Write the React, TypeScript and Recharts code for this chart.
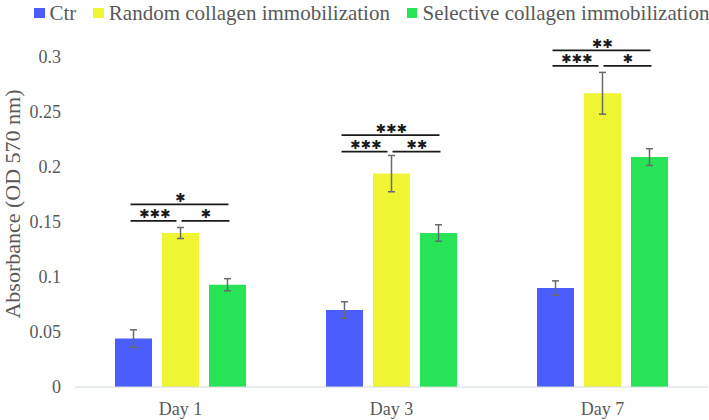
import React from 'react';
import { BarChart, Bar, XAxis, YAxis, ErrorBar } from 'recharts';

// values
const days = ['Day 1', 'Day 3', 'Day 7'];
const ctr = [0.044, 0.07, 0.09];
const random = [0.14, 0.194, 0.267];
const selective = [0.093, 0.14, 0.209];
const ctrErr = [0.008, 0.0075, 0.0065];
const randomErr = [0.005, 0.0165, 0.019];
const selectiveErr = [0.0055, 0.0075, 0.0076];
const yTicks = [0, 0.05, 0.1, 0.15, 0.2, 0.25, 0.3];

// significance marks (Ctr vs Random, Random vs Selective, Ctr vs Selective)
const sigCtrRandom = ['***', '***', '***'];
const sigRandomSel = ['*', '**', '*'];
const sigCtrSel = ['*', '***', '**'];
// heights of the bracket lines in absorbance units
const lowBracket = [0.151, 0.214, 0.292];
const highBracket = [0.166, 0.229, 0.306];

const series = [
    { key: 'Ctr', name: 'Ctr', color: '#4b5dfc' },
    { key: 'Random', name: 'Random collagen immobilization', color: '#eff533' },
    { key: 'Selective', name: 'Selective collagen immobilization', color: '#27e356' },
];

const data = days.map((d, i) => ({
    day: d,
    Ctr: ctr[i],
    CtrErr: ctrErr[i],
    Random: random[i],
    RandomErr: randomErr[i],
    Selective: selective[i],
    SelectiveErr: selectiveErr[i],
}));

const FONT = '"Liberation Serif", "Times New Roman", serif';
const BAR_SIZE = 37;
const BAR_GAP = 10;
const TEXT = '#595959';
const ERR = '#666b6b';

// heavy asterisk glyph keeps the marks big while the text box stays small
const stars = (s: string) => s.replace(/\*/g, '\u2731');

const Brackets = (props: any) => {
    const vb = props.viewBox && props.viewBox.width !== undefined ? props.viewBox : props;
    const { x, y, width, height } = vb;
    const i = typeof props.index === 'number' ? props.index : random.indexOf(Number(props.value));
    if (i < 0 || !height) return null;
    const base = y + height;
    const k = height / random[i];
    const toY = (v: number) => base - v * k;
    const step = BAR_SIZE + BAR_GAP;
    const yc = x + width / 2;
    const bc = yc - step;
    const gc = yc + step;
    const yLow = toY(lowBracket[i]);
    const yHigh = toY(highBracket[i]);
    const line = { stroke: '#1a1a1a', strokeWidth: 1.8 };
    const starStyle = { fontFamily: '"DejaVu Sans", sans-serif', fontSize: 12.5, fill: '#1a1a1a' };
    return (
        <g>
            <line x1={bc - 3} x2={gc + 1} y1={yHigh} y2={yHigh} {...line} />
            <line x1={bc - 3} x2={yc - 4} y1={yLow} y2={yLow} {...line} />
            <line x1={yc + 1} x2={gc + 2} y1={yLow} y2={yLow} {...line} />
            <text x={(bc + gc) / 2} y={yHigh - 7} textAnchor="middle" dominantBaseline="central" style={starStyle}>{stars(sigCtrSel[i])}</text>
            <text x={(bc + yc) / 2 - 2} y={yLow - 7} textAnchor="middle" dominantBaseline="central" style={starStyle}>{stars(sigCtrRandom[i])}</text>
            <text x={(yc + gc) / 2 + 2} y={yLow - 7} textAnchor="middle" dominantBaseline="central" style={starStyle}>{stars(sigRandomSel[i])}</text>
        </g>
    );
};

const YLabel = (props: any) => {
    const vb = props.viewBox || { x: 0, y: 57, width: 75, height: 330 };
    const cx = vb.x + 12;
    const cy = vb.y + vb.height / 2 - 18;
    return (
        <text
            x={cx}
            y={cy}
            transform={`rotate(-90, ${cx}, ${cy})`}
            textAnchor="middle"
            dominantBaseline="central"
            style={{ fontFamily: FONT, fontSize: 22, fill: TEXT }}
        >
            Absorbance (OD 570 nm)
        </text>
    );
};

const tickStyle = { fill: TEXT, fontSize: 18, fontFamily: FONT };

export default function App() {
    return (
        <div style={{ position: 'absolute', left: 0, top: 0, width: 709, height: 420, background: '#fff', fontFamily: FONT }}>
            {/* Legend */}
            <div style={{
                position: 'absolute',
                top: 0,
                left: 34,
                display: 'flex',
                alignItems: 'center',
                height: 26,
                fontSize: 21,
                color: TEXT,
                whiteSpace: 'nowrap',
            }}>
                {series.map(s => (
                    <div key={s.key} style={{ display: 'flex', alignItems: 'center', marginRight: 17 }}>
                        <div style={{ width: 10.5, height: 10.5, background: s.color, marginRight: 5 }} />
                        <span>{s.name}</span>
                    </div>
                ))}
            </div>

            <BarChart
                width={709}
                height={420}
                data={data}
                margin={{ top: 57, right: 1, bottom: 0, left: 0 }}
                barSize={BAR_SIZE}
                barGap={BAR_GAP}
                style={{ fontFamily: FONT }}
            >
                <XAxis
                    dataKey="day"
                    height={33}
                    tickLine={false}
                    tickSize={0}
                    tickMargin={15}
                    axisLine={{ stroke: '#d3d9dc', strokeWidth: 1.2 }}
                    tick={{ ...tickStyle, style: tickStyle }}
                />
                <YAxis
                    width={75}
                    domain={[0, 0.3]}
                    ticks={yTicks}
                    interval={0}
                    axisLine={false}
                    tickLine={false}
                    tickSize={0}
                    tickMargin={14}
                    tick={{ ...tickStyle, style: tickStyle }}
                    tickFormatter={(v: number) => String(v)}
                    label={<YLabel />}
                />
                <Bar dataKey="Ctr" fill={series[0].color} isAnimationActive={false}>
                    <ErrorBar dataKey="CtrErr" width={3.5} stroke={ERR} strokeWidth={1.5} isAnimationActive={false} />
                </Bar>
                <Bar dataKey="Random" fill={series[1].color} isAnimationActive={false} label={Brackets}>
                    <ErrorBar dataKey="RandomErr" width={3.5} stroke={ERR} strokeWidth={1.5} isAnimationActive={false} />
                </Bar>
                <Bar dataKey="Selective" fill={series[2].color} isAnimationActive={false}>
                    <ErrorBar dataKey="SelectiveErr" width={3.5} stroke={ERR} strokeWidth={1.5} isAnimationActive={false} />
                </Bar>
            </BarChart>
        </div>
    );
}
